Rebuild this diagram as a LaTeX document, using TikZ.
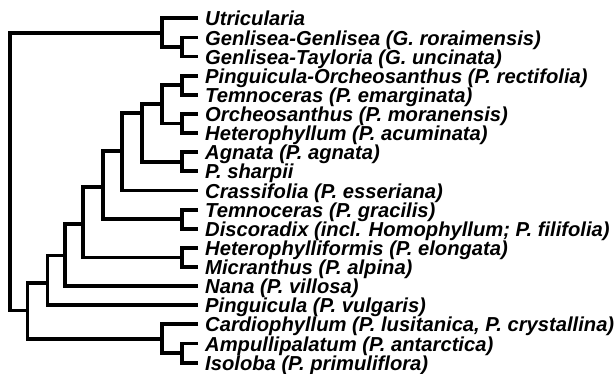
\documentclass[tikz,border=0pt]{standalone}
\usepackage{fontspec}
\setmainfont{Liberation Sans}
\newcommand\taxonleaf[3]{%
  \coordinate (t#1) at (198,#2);
  \node[taxon] (n#1) at ([shift={(7pt,-7.6pt)}]t#1) {#3};}
\begin{document}
\begin{tikzpicture}[x=1pt,y=-1pt,
  branch/.style={line width=3.8pt, line join=miter},
  taxon/.style={anchor=base west, inner sep=0pt,
    font=\fontsize{20.2}{20.2}\selectfont\bfseries\itshape}]
\useasboundingbox (0,0) rectangle (615,374);
% leaves
\taxonleaf{0}{18.3}{Utricularia}
\taxonleaf{1}{37.43}{Genlisea-Genlisea (G. roraimensis)}
\taxonleaf{2}{56.56}{Genlisea-Tayloria (G. uncinata)}
\taxonleaf{3}{75.69}{Pinguicula-Orcheosanthus (P. rectifolia)}
\taxonleaf{4}{94.82}{Temnoceras (P. emarginata)}
\taxonleaf{5}{113.95}{Orcheosanthus (P. moranensis)}
\taxonleaf{6}{133.08}{Heterophyllum (P. acuminata)}
\taxonleaf{7}{152.21}{Agnata (P. agnata)}
\taxonleaf{8}{171.34}{P. sharpii}
\taxonleaf{9}{190.47}{Crassifolia (P. esseriana)}
\taxonleaf{10}{209.6}{Temnoceras (P. gracilis)}
\taxonleaf{11}{228.73}{Discoradix (incl. Homophyllum; P. filifolia)}
\taxonleaf{12}{247.86}{Heterophylliformis (P. elongata)}
\taxonleaf{13}{266.99}{Micranthus (P. alpina)}
\taxonleaf{14}{286.12}{Nana (P. villosa)}
\taxonleaf{15}{305.25}{Pinguicula (P. vulgaris)}
\taxonleaf{16}{324.38}{Cardiophyllum (P. lusitanica, P. crystallina)}
\taxonleaf{17}{343.51}{Ampullipalatum (P. antarctica)}
\taxonleaf{18}{362.64}{Isoloba (P. primuliflora)}
% internal nodes
\coordinate (Gn) at (181.7,47.0);
\coordinate (A)  at (161.7,33);
\coordinate (N)  at (181.7,85.26);
\coordinate (O)  at (181.7,123.52);
\coordinate (L)  at (161.7,104.39);
\coordinate (M)  at (181.7,161.78);
\coordinate (K)  at (141.7,113);
\coordinate (I)  at (121.7,151);
\coordinate (J)  at (181.7,219.17);
\coordinate (G)  at (103.3,187);
\coordinate (H)  at (181.7,257.43);
\coordinate (F)  at (83.3,224);
\coordinate (E)  at (65,255.5);
\coordinate (C)  at (47.5,283);
\coordinate (Dn) at (181.7,353.08);
\coordinate (D)  at (161.7,338.7);
\coordinate (B)  at (27.5,310.5);
\coordinate (R)  at (10.3,170);
% branches
\draw[branch] (t1) -| (Gn) |- (t2);
\draw[branch] (t0) -| (A) |- (Gn);
\draw[branch] (t3) -| (N) |- (t4);
\draw[branch] (t5) -| (O) |- (t6);
\draw[branch] (N) -| (L) |- (O);
\draw[branch] (t7) -| (M) |- (t8);
\draw[branch] (L) -| (K) |- (M);
\draw[branch] (K) -| (I) |- (t9);
\draw[branch] (t10) -| (J) |- (t11);
\draw[branch] (I) -| (G) |- (J);
\draw[branch] (t12) -| (H) |- (t13);
\draw[branch] (G) -| (F) |- (H);
\draw[branch] (F) -| (E) |- (t14);
\draw[branch] (E) -| (C) |- (t15);
\draw[branch] (t17) -| (Dn) |- (t18);
\draw[branch] (t16) -| (D) |- (Dn);
\draw[branch] (C) -| (B) |- (D);
\draw[branch] (A) -| (R) |- (B);
\end{tikzpicture}
\end{document}
